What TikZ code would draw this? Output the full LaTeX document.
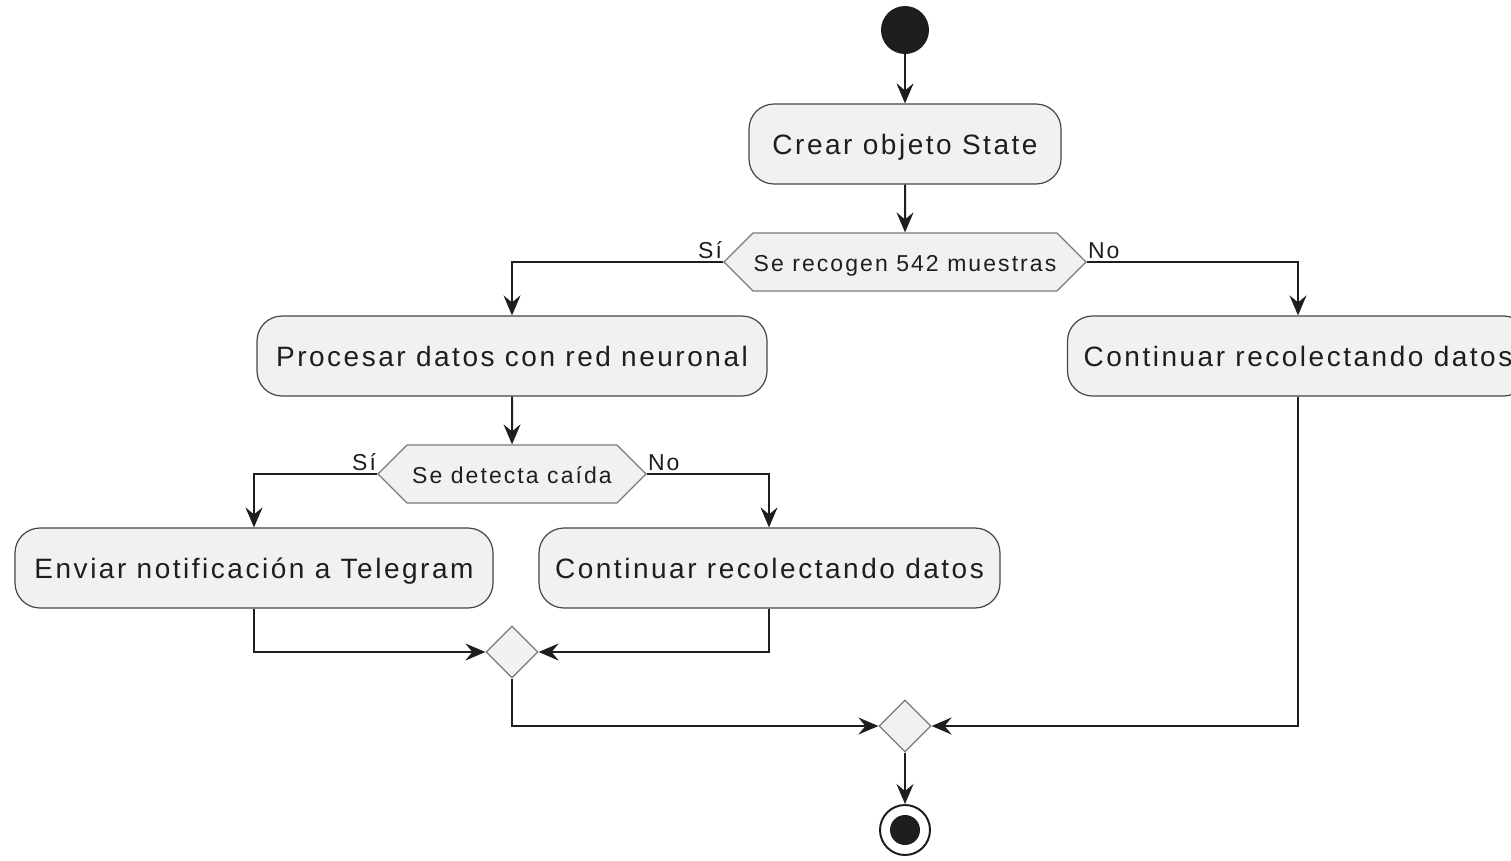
\documentclass[tikz,border=0pt]{standalone}
\usepackage{fontspec}
\setmainfont{Liberation Sans}[LetterSpace=9]
\usetikzlibrary{arrows.meta,shapes.geometric,shapes.symbols}

\definecolor{actfill}{HTML}{F1F1F1}
\definecolor{actline}{HTML}{454545}
\definecolor{hexline}{HTML}{7A7A7A}
\definecolor{ink}{HTML}{1E1E1E}

\tikzset{
  action/.style={draw=actline, line width=1.2pt, fill=actfill, rounded corners=25pt,
    minimum height=80pt, inner sep=0pt, text=ink,
    text height=21pt, text depth=0pt,
    font=\fontsize{28}{32}\selectfont},
  choice/.style={signal, signal to=west and east, signal pointer angle=90,
    draw=hexline, line width=1.2pt, fill=actfill, minimum height=58pt,
    inner sep=0pt, text=ink, text height=19pt, text depth=0pt,
    font=\fontsize{23}{27}\selectfont},
  merge/.style={diamond, aspect=1, draw=hexline, line width=1.2pt, fill=actfill,
    minimum width=52pt, minimum height=52pt, inner sep=0pt},
  guard/.style={inner sep=0pt, text=ink, font=\fontsize{23}{27}\selectfont},
  flow/.style={draw=ink, line width=2pt,
    -{Stealth[length=20pt, width=17pt, inset=7pt]}},
}

\begin{document}
\begin{tikzpicture}[x=1pt, y=-1pt]
  \useasboundingbox (0,0) rectangle (1511,860);
  \clip (0,0) rectangle (1511,860);

  % start / end markers
  \node[circle, fill=ink, minimum size=48pt, inner sep=0pt] (start) at (905,30) {};
  \node[circle, draw=ink, line width=2pt, minimum size=50pt, inner sep=0pt] (stop) at (905,830) {};
  \node[circle, fill=ink, minimum size=30pt, inner sep=0pt] (stopdot) at (905,830) {};

  % actions
  \node[action, minimum width=312pt] (state) at (905,144) {Crear objeto State};
  \node[action, minimum width=510pt] (proc) at (512,356) {Procesar datos con red neuronal};
  \node[action, minimum width=461pt] (contA) at (1298,356) {Continuar recolectando datos};
  \node[action, minimum width=478pt] (notify) at (254,568) {Enviar notificación a Telegram};
  \node[action, minimum width=461pt] (contB) at (769.5,568) {Continuar recolectando datos};

  % decisions
  \node[choice, minimum width=362pt] (samples) at (905,262) {Se recogen 542 muestras};
  \node[choice, minimum width=268pt] (fall) at (512,474) {Se detecta caída};

  % merges
  \node[merge] (mergeA) at (512,652) {};
  \node[merge] (mergeB) at (905,726) {};

  % guards
  \node[guard, anchor=base east] at ([xshift=-1pt, yshift=4pt]samples.west) {Sí};
  \node[guard, anchor=base west] at ([xshift=1pt, yshift=4pt]samples.east) {No};
  \node[guard, anchor=base east] at ([xshift=-1pt, yshift=4pt]fall.west) {Sí};
  \node[guard, anchor=base west] at ([xshift=1pt, yshift=4pt]fall.east) {No};

  % flow
  \draw[flow] (start) -- (state);
  \draw[flow] (state) -- (samples);
  \draw[flow] (samples.west) -| (proc.north);
  \draw[flow] (samples.east) -| (contA.north);
  \draw[flow] (proc) -- (fall);
  \draw[flow] (fall.west) -| (notify.north);
  \draw[flow] (fall.east) -| ([xshift=-0.5pt]contB.north);
  \draw[flow] (notify.south) |- (mergeA.west);
  \draw[flow] ([xshift=-0.5pt]contB.south) |- (mergeA.east);
  \draw[flow] (mergeA.south) |- (mergeB.west);
  \draw[flow] (contA.south) |- (mergeB.east);
  \draw[flow] (mergeB) -- (stop);
\end{tikzpicture}
\end{document}
